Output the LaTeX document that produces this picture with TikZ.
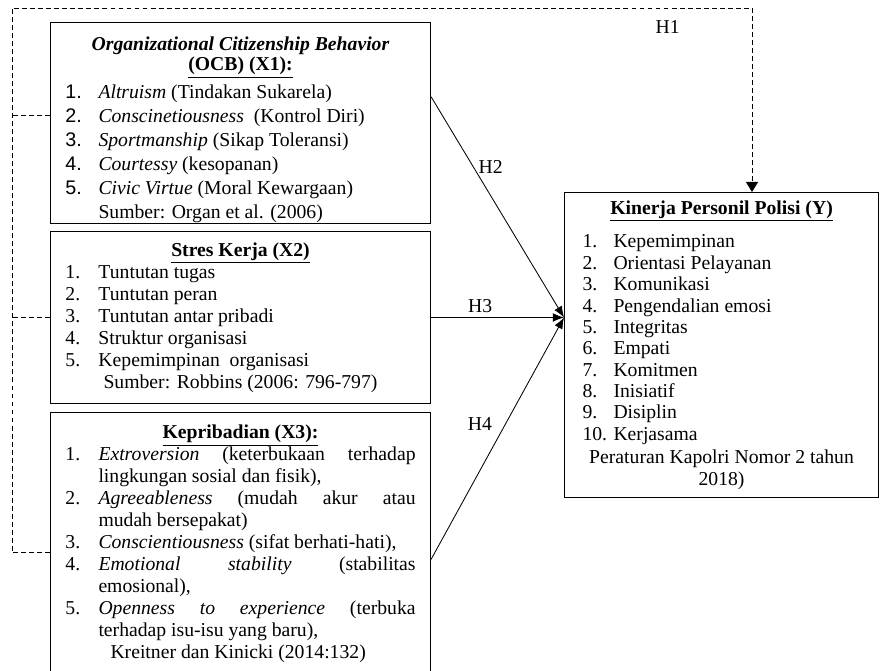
\documentclass[tikz,border=0pt]{standalone}
\usepackage{fontspec}
\setmainfont{Liberation Serif}
\newfontfamily\numfont{Liberation Sans}
\usetikzlibrary{positioning,calc,arrows.meta}
\newcommand{\hitem}[3][0.825cm]{\par\hangindent=#1\hangafter=1\noindent\makebox[#1][l]{#2}#3}
\tikzset{block/.style={draw,line width=0.7pt,text width=8.75cm,inner xsep=0.375cm,inner ysep=0.1cm,align=justify},
         line/.style={-{Latex[length=2.8mm,width=2.2mm]},line width=0.6pt},
         dline/.style={dash pattern=on 3.5pt off 2.2pt,line width=0.6pt}
     }

\begin{document}
\begin{tikzpicture}[x=0.025cm,y=-0.025cm,font=\fontsize{14}{15.6}\selectfont]
\useasboundingbox (0,0) rectangle (880,670);
%\draw[help lines] (0,0) grid[step=50] (880,670);
\node[block,minimum height=5.025cm,inner ysep=0pt,anchor=north west,font=\fontsize{14}{17}\selectfont](x1) at (50,22) {%
{\centering\fontsize{14}{14.5}\selectfont\rule{0pt}{19pt}\textbf{\textit{Organizational Citizenship Behavior}}\par\underline{\textbf{(OCB) (X1):}}\par}
\vspace{0.1cm}
\hitem{{\numfont 1.}}{\textit{Altruism} (Tindakan Sukarela)}
\hitem{{\numfont 2.}}{\textit{Conscinetiousness}\ \ (Kontrol Diri)}
\hitem{{\numfont 3.}}{\textit{Sportmanship} (Sikap Toleransi)}
\hitem{{\numfont 4.}}{\textit{Courtessy} (kesopanan)}
\hitem{{\numfont 5.}}{\textit{Civic Virtue} (Moral Kewargaan)}
\par\fontsize{14}{15.8}\selectfont\noindent\hspace*{0.825cm}Sumber: Organ et al. (2006)};
\node[block,minimum height=4.3cm,below=0.175cm of x1](x2) {%
{\centering\underline{\textbf{Stres Kerja (X2)}}\par}
\hitem{1.}{Tuntutan tugas}
\hitem{2.}{Tuntutan peran}
\hitem{3.}{Tuntutan antar pribadi}
\hitem{4.}{Struktur organisasi}
\hitem{5.}{Kepemimpinan\ \ organisasi}
\par\noindent\hspace*{0.95cm}Sumber: Robbins (2006: 796-797)};
\node[block,minimum height=6.55cm,below=0.2cm of x2](x3) {%
{\centering\underline{\textbf{Kepribadian (X3):}}\par}
\hitem{1.}{\textit{Extroversion} (keterbukaan terhadap\linebreak lingkungan sosial dan fisik),}
\hitem{2.}{\textit{Agreeableness} (mudah akur atau\linebreak mudah bersepakat)}
\hitem{3.}{\textit{Conscientiousness} (sifat berhati-hati),}
\hitem{4.}{\textit{Emotional stability} (stabilitas\linebreak emosional),}
\hitem{5.}{\textit{Openness to experience} (terbuka\linebreak terhadap isu-isu yang baru),}
\par\noindent\hspace*{1.125cm}Kreitner\ dan Kinicki\ (2014:132)
\par\vspace*{1.05cm}};
\node[block,text width=6.95cm,inner xsep=0.45cm,minimum height=7.625cm,anchor=north west,font=\fontsize{14}{15.2}\selectfont](y) at (564,192) {%
{\centering\underline{\textbf{Kinerja Personil Polisi (Y)}}\par}
\vspace{0.3cm}
\hitem[0.775cm]{1.}{Kepemimpinan}
\hitem[0.775cm]{2.}{Orientasi Pelayanan}
\hitem[0.775cm]{3.}{Komunikasi}
\hitem[0.775cm]{4.}{Pengendalian\ emosi}
\hitem[0.775cm]{5.}{Integritas}
\hitem[0.775cm]{6.}{Empati}
\hitem[0.775cm]{7.}{Komitmen}
\hitem[0.775cm]{8.}{Inisiatif}
\hitem[0.775cm]{9.}{Disiplin}
\hitem[0.775cm]{10.}{Kerjasama}
\par\vspace{0.05cm}{\centering Peraturan Kapolri Nomor 2 tahun\par 2018)\par}};
\coordinate (lft) at (12,8);
\coordinate (h1) at (752,8);
\coordinate (yin) at ($(y.north west)!0.41!(y.south west)$);
\draw[dline,-{Triangle[length=2.5mm,width=3mm]}] ($(x3.north west)!0.535!(x3.south west)$) -| (lft) -- node[pos=0.886,below=5pt]{H1} (h1) -- (h1 |- y.north);
\draw[dline] ($(x1.north west)!0.46!(x1.south west)$) coordinate (s1) -- (s1 -| lft);
\draw[dline] (x2.west) -- (x2.west -| lft);
\draw[line] ($(x1.north east)!0.37!(x1.south east)$) -- node[pos=0.32,right]{H2} (yin);
\draw[line] (yin -| x2.east) -- node[pos=0.37,above]{H3} (yin);
\draw[line] ($(x3.north east)!0.56!(x3.south east)$) -- node[pos=0.56,left=6pt]{H4} (yin);
\end{tikzpicture}
\end{document}
